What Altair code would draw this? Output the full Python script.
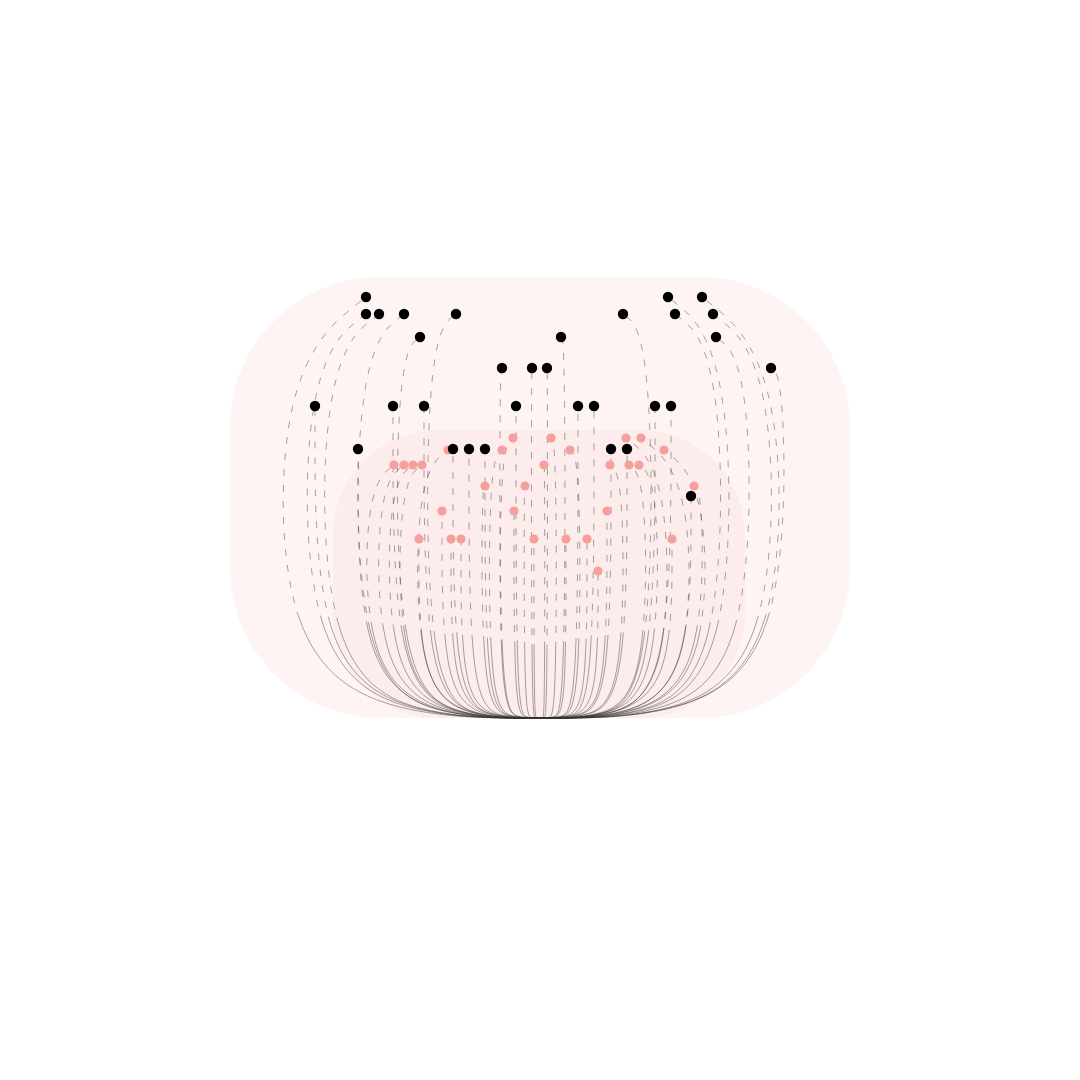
import math
import altair as alt
import pandas as pd

# ---------------- data ----------------
# horizontal offset of each node from the common root, and its height above the root
black_dx = [-174, 128, 162,
            -174, -161, -136, -84, 83, 135, 173,
            -120, 21, 176,
            -38, -8, 7, 231,
            -225, -147, -116, -24, 38, 54, 115, 131,
            -182, -87, -71, -55, 71, 87,
            151]
black_h = [421, 421, 421,
           404, 404, 404, 404, 404, 404, 404,
           381, 381, 381,
           350, 350, 350, 350,
           312, 312, 312, 312, 312, 312, 312, 312,
           269, 269, 269, 269, 269, 269,
           222]
pink_dx = [-27, 11, 86, 101,
           -92, -38, 30, 124,
           -146, -136, -127, -118, 4, 70, 89, 99,
           -55, -15, 154,
           -98, -26, 67,
           -121, -89, -79, -6, 26, 47, 132,
           58]
pink_h = [280, 280, 280, 280,
          268, 268, 268, 268,
          253, 253, 253, 253, 253, 253, 253, 253,
          232, 232, 232,
          207, 207, 207,
          179, 179, 179, 179, 179, 179, 179,
          147]

BLACK = "#000000"
PINK = "#f4a19d"
LINK = "#333333"

# ---------------- link geometry (control points for basis curves) ----------------
def bulge(h, hmax, hmin):
    t = (hmax - h) / (hmax - hmin)
    return 1 + 0.5 * max(0.0, 1 - t / 0.55) ** 2


def basis_segments(pts):
    """Cubic segments drawn by d3.curveBasis for these control points."""
    segs = []
    (x0, y0), (x1, y1) = pts[0], pts[1]
    start = pts[0]

    def bez(ax, ay, bx, by, cx, cy, p):
        c1 = ((2 * ax + bx) / 3, (2 * ay + by) / 3)
        c2 = ((ax + 2 * bx) / 3, (ay + 2 * by) / 3)
        e = ((ax + 4 * bx + cx) / 6, (ay + 4 * by + cy) / 6)
        segs.append((p, c1, c2, e))
        return e
    first = ((5 * x0 + x1) / 6, (5 * y0 + y1) / 6)
    segs.append((start, start, first, first))
    p = first
    for (x, y) in pts[2:]:
        p = bez(x0, y0, x1, y1, x, y, p)
        x0, y0, x1, y1 = x1, y1, x, y
    p = bez(x0, y0, x1, y1, x1, y1, p)
    segs.append((p, p, (x1, y1), (x1, y1)))
    return segs


def length_until(segs, thr):
    total, solid = 0.0, None
    prev = segs[0][0]
    for (p0, p1, p2, p3) in segs:
        for i in range(1, 41):
            t = i / 40
            mt = 1 - t
            x = mt**3 * p0[0] + 3 * mt * mt * t * p1[0] + 3 * mt * t * t * p2[0] + t**3 * p3[0]
            y = mt**3 * p0[1] + 3 * mt * mt * t * p1[1] + 3 * mt * t * t * p2[1] + t**3 * p3[1]
            total += math.hypot(x - prev[0], y - prev[1])
            prev = (x, y)
            if solid is None and y >= thr:
                solid = total
    return solid if solid is not None else total, total


link_rows, ids, dashes = [], [], []
groups = [("b", black_dx, black_h), ("p", pink_dx, pink_h)]
for g, dxs, hs in groups:
    hmax, hmin = max(hs), min(hs)
    for i, (dx, h) in enumerate(zip(dxs, hs)):
        lid = f"{g}{i}"
        xv = dx * bulge(h, hmax, hmin)          # x of the rising part
        hv = 0.55 * abs(xv)                      # height of the elliptical bend
        hc = max(h - 0.8 * abs(xv - dx), 0.6 * hv + 10)
        hc = min(hc, h)
        pts = [(0.0, 0.0), (0.55 * xv, 0.0), (xv, 0.45 * hv),
               (xv, hc), (float(dx), float(h))]
        for k, (x, y) in enumerate(pts):
            link_rows.append({"id": lid, "step": k, "x": x, "h": y})
        thr = 72 + 0.12 * abs(xv)
        solid, total = length_until(basis_segments(pts), thr)
        pattern = [round(solid, 1), 9]
        while sum(pattern) < total + 40:
            pattern += [7, 9]
        ids.append(lid)
        dashes.append(pattern)

links = pd.DataFrame(link_rows)
black = pd.DataFrame({"x": black_dx, "h": black_h})
pink = pd.DataFrame({"x": pink_dx, "h": pink_h})

hulls = pd.DataFrame([
    {"name": "outer", "x": min(black_dx) - 85, "x2": max(black_dx) + 79, "y": 0, "y2": max(black_h) + 20},
    {"name": "inner", "x": min(pink_dx) - 61, "x2": max(pink_dx) + 51, "y": 0, "y2": max(pink_h) + 8},
])

xs = alt.Scale(domain=[-540, 540])
ys = alt.Scale(domain=[-362, 718])

outer = alt.Chart(hulls[hulls.name == "outer"]).mark_rect(
    fill="#fff4f4", cornerRadius=150
).encode(x=alt.X("x:Q", scale=xs, axis=None), x2="x2:Q",
         y=alt.Y("y:Q", scale=ys, axis=None), y2="y2:Q")

inner = alt.Chart(hulls[hulls.name == "inner"]).mark_rect(
    fill="#fdecec", cornerRadius=105
).encode(x=alt.X("x:Q", scale=xs, axis=None), x2="x2:Q",
         y=alt.Y("y:Q", scale=ys, axis=None), y2="y2:Q")

lines = alt.Chart(links).mark_line(
    interpolate="basis", color=LINK, strokeWidth=0.55, opacity=0.8
).encode(
    x=alt.X("x:Q", scale=xs, axis=None),
    y=alt.Y("h:Q", scale=ys, axis=None),
    detail="id:N",
    order="step:Q",
    strokeDash=alt.StrokeDash("id:N", scale=alt.Scale(domain=ids, range=dashes), legend=None),
)

pink_pts = alt.Chart(pink).mark_circle(size=85, color=PINK, opacity=1).encode(
    x=alt.X("x:Q", scale=xs, axis=None), y=alt.Y("h:Q", scale=ys, axis=None))

black_pts = alt.Chart(black).mark_circle(size=108, color=BLACK, opacity=1).encode(
    x=alt.X("x:Q", scale=xs, axis=None), y=alt.Y("h:Q", scale=ys, axis=None))

chart = alt.layer(outer, inner, lines, pink_pts, black_pts).properties(
    width=1080, height=1080, padding=0, autosize=alt.AutoSizeParams(type="none"),
    background="white"
).configure_view(stroke=None)

chart.save("out.html", embed_options={"renderer": "svg", "actions": False})
